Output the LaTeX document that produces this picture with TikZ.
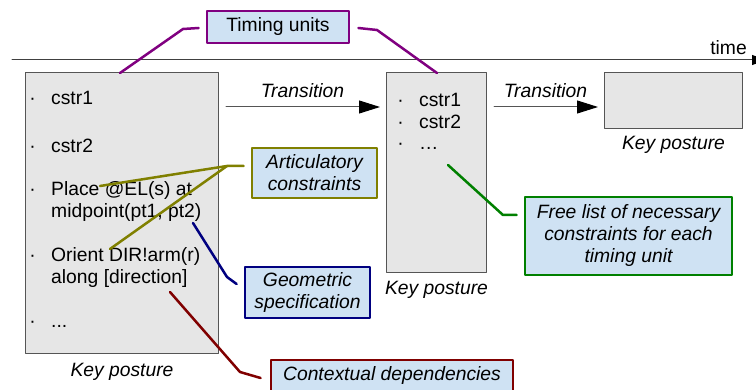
\documentclass[tikz,border=0pt]{standalone}
\usepackage{fontspec}
\setmainfont{Liberation Sans}
\usetikzlibrary{arrows.meta,positioning}

% Colours of the boxes and the callout frames
\definecolor{posturefill}{RGB}{230,230,230}
\definecolor{postureline}{RGB}{85,85,85}
\definecolor{callfill}{RGB}{207,226,243}
\definecolor{tuline}{RGB}{128,0,128}
\definecolor{acline}{RGB}{128,128,0}
\definecolor{gsline}{RGB}{0,0,128}
\definecolor{cdline}{RGB}{128,0,0}
\definecolor{flline}{RGB}{0,128,0}

% Bullet set to the left of a list entry
\newcommand{\bul}{\llap{·\hspace{15.4pt}}}

\begin{document}
\begin{tikzpicture}[x=1pt, y=-1pt, line cap=round, line join=round,
  font=\fontsize{19.3}{22}\selectfont,
  posture/.style={draw=postureline, fill=posturefill, line width=1pt, inner sep=0pt, anchor=north west},
  callout/.style={draw=#1, fill=callfill, line width=2.8pt, inner sep=0pt, align=center,
    font=\fontsize{19.3}{22}\selectfont\itshape},
  link/.style={draw=#1, line width=2.5pt},
  item/.style={anchor=base west, inner sep=0pt},
  caption/.style={inner sep=0pt, font=\fontsize{19.3}{22}\selectfont\itshape},
  trans/.style={draw=postureline, line width=1pt, shorten <=7pt, shorten >=6pt,
    -{Triangle[length=21pt,width=13pt,color=black]}}]

\useasboundingbox (0,0) rectangle (756,390);

% Time axis
\coordinate (T0) at (12,60);
\coordinate (T1) at (766,60);
\draw[line width=1pt, draw=black!75, -{Triangle[length=14pt,width=10pt,color=black]}] (T0) -- (T1);
\node[item, anchor=base east] (tlab) at (747,55) {time};

% Key postures
\node[posture, minimum width=193pt, minimum height=281pt] (kp1) at (25,72) {};
\node[posture, minimum width=100pt, minimum height=200pt] (kp2) at (386,72) {};
\node[posture, minimum width=138pt, minimum height=56pt] (kp3) at (604,72) {};

\node[caption, below=9pt of kp1] (cap1) {Key posture};
\node[caption, below=8pt of kp2] (cap2) {Key posture};
\node[caption, below=7pt of kp3] (cap3) {Key posture};

% Constraints of the first posture
\node[item] (i1) at (51,105) {\bul cstr1};
\node[item] (i2) at (51,153) {\bul cstr2};
\node[item] (i3) at (51,196) {\bul Place @EL(s) at};
\node[item] (i4) at (51,218) {midpoint(pt1, pt2)};
\node[item] (i5) at (51,262) {\bul Orient DIR!arm(r)};
\node[item] (i6) at (51,284) {along [direction]};
\node[item] (i7) at (51,328) {\bul ...};

% Constraints of the second posture
\node[item] (j1) at (419,107) {\bul cstr1};
\node[item] (j2) at (419,129) {\bul cstr2};
\node[item] (j3) at (419,150) {\bul …};

% Transitions
\coordinate (row) at (0,107);
\draw[trans] (kp1.east |- row) -- (kp2.west |- row)
  node[caption, midway, above=9pt] (tr1) {Transition};
\draw[trans] (kp2.east |- row) -- (kp3.west |- row)
  node[caption, midway, above=9pt] (tr2) {Transition};

% Callouts
\node[callout=tuline, minimum width=142pt, minimum height=32pt] (tu) at (278,27) {\upshape Timing units};
\node[callout=acline, minimum width=125pt, minimum height=50pt] (ac) at (314.5,173) {Articulatory\\constraints};
\node[callout=gsline, minimum width=125pt, minimum height=51pt] (gs) at (307.5,292.5) {Geometric\\specification};
\node[callout=cdline, minimum width=242pt, minimum height=32pt] (cd) at (392,376) {Contextual dependencies};
\node[callout=flline, minimum width=207pt, minimum height=78pt] (fl) at (628.5,236) {Free list of necessary\\constraints for each\\timing unit};

% Points the callouts refer to
\coordinate (kp1T) at (120,73);
\coordinate (kp2T) at (437,73);
\coordinate (place) at (100,186);
\coordinate (orient) at (110,249);
\coordinate (midpt) at (193,223);
\coordinate (along) at (170,292);
\coordinate (dots) at (448,165);

% Bends of the connectors
\coordinate (tuA) at (183,29);
\coordinate (tuB) at (377,30);
\coordinate (acA) at (227,166);
\coordinate (gsA) at (227,277);
\coordinate (cdA) at (240,372);
\coordinate (flA) at (503,215);

% Connectors
\draw[link=tuline] ([xshift=-7pt,yshift=-1pt]tu.west) -- (tuA) -- (kp1T);
\draw[link=tuline] ([xshift=8pt,yshift=-1pt]tu.east) -- (tuB) -- (kp2T);
\draw[link=acline] ([xshift=-7pt,yshift=7pt]ac.west) -- (acA) -- (place);
\draw[link=acline] (acA) -- (orient);
\draw[link=gsline] ([xshift=-7pt,yshift=8.5pt]gs.west) -- (gsA) -- (midpt);
\draw[link=cdline] ([xshift=-9pt,yshift=-2pt]cd.west) -- (cdA) -- (along);
\draw[link=flline] ([xshift=-7pt,yshift=21pt]fl.west) -- (flA) -- (dots);

\end{tikzpicture}
\end{document}
